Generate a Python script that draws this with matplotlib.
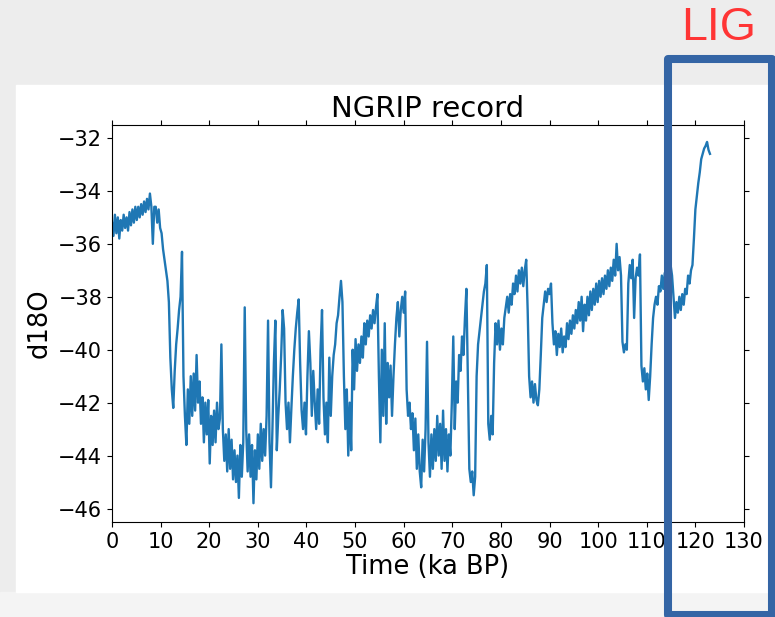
import numpy as np
import matplotlib.pyplot as plt
from matplotlib.patches import Rectangle

# NGRIP d18O, one value every 0.3 ka from 0 ka
STEP_KA = 0.3
d18o_0_30 = [
    -35.2, -35.7, -34.9, -35.6, -35.0, -35.8, -35.1, -35.5, -34.9, -35.4,
    -35.0, -35.5, -34.8, -35.3, -34.7, -35.2, -34.6, -35.1, -34.6, -35.0,
    -34.5, -34.9, -34.4, -34.8, -34.3, -34.7, -34.1, -34.6, -36.0, -34.6,
    -34.6, -35.2, -34.7, -35.4, -35.6, -36.2, -36.6, -37.0, -37.4, -38.2,
    -40.3, -41.5, -42.2, -40.8, -39.8, -39.2, -38.5, -38.0, -36.3, -41.0,
    -42.5, -43.6, -41.5, -42.8, -41.0, -42.5, -40.9, -42.3, -40.2, -42.0,
    -41.2, -42.8, -41.8, -43.5, -42.0, -43.2, -41.9, -44.3, -42.5, -43.6,
    -42.3, -43.5, -42.0, -43.0, -42.6, -39.8, -43.0, -44.2, -43.2, -44.6,
    -43.0, -44.5, -43.4, -44.9, -43.8, -45.0, -44.0, -45.6, -43.6, -44.8,
    -43.5, -38.4, -43.0, -44.6, -43.2, -44.8, -43.6, -45.8, -43.8, -44.9,
]
d18o_30_60 = [
    -43.2, -44.5, -42.8, -44.2, -43.0, -44.0, -42.5, -38.9, -43.5, -45.2,
    -43.0, -40.5, -38.9, -43.8, -42.5, -41.5, -40.2, -38.5, -39.2, -42.0,
    -43.0, -42.0, -43.5, -42.2, -41.0, -40.0, -39.2, -38.6, -38.1, -40.5,
    -42.3, -43.0, -42.0, -43.2, -41.0, -39.3, -40.5, -42.5, -40.8, -42.0,
    -43.0, -41.5, -42.8, -40.0, -38.5, -41.8, -43.2, -42.0, -43.5, -40.3,
    -42.5, -41.0, -40.2, -39.8, -39.0, -38.7, -38.0, -37.4, -38.2, -41.0,
    -43.0, -41.5, -44.0, -42.0, -43.8, -40.0, -41.5, -39.6, -40.8, -39.8,
    -40.5, -39.5, -40.3, -39.0, -39.8, -38.9, -39.5, -38.7, -39.2, -38.5,
    -39.0, -38.4, -37.9, -41.0, -43.5, -40.0, -42.5, -39.0, -42.8, -40.5,
    -41.8, -40.6, -42.5, -41.0, -39.8, -38.8, -38.2, -39.5, -38.5, -38.0,
]
d18o_60_90 = [
    -38.6, -37.8, -41.5, -42.5, -42.0, -43.0, -42.4, -43.8, -42.6, -44.5,
    -43.2, -44.6, -45.2, -43.4, -44.6, -43.0, -39.7, -43.5, -44.8, -43.2,
    -44.5, -43.0, -44.2, -42.5, -44.0, -42.8, -44.5, -42.3, -44.2, -43.0,
    -44.6, -43.2, -44.0, -42.0, -39.5, -43.0, -41.2, -42.0, -40.2, -40.8,
    -39.5, -40.2, -38.8, -37.7, -41.0, -44.5, -45.0, -44.6, -45.5, -44.8,
    -41.0, -39.8, -39.3, -38.8, -38.3, -37.8, -37.5, -36.8, -42.8, -43.4,
    -42.5, -43.2, -40.5, -39.0, -39.8, -38.9, -40.0, -39.2, -39.8, -38.8,
    -38.4, -38.0, -38.6, -37.9, -38.3, -37.5, -37.9, -37.2, -37.8, -37.0,
    -37.5, -36.9, -37.6, -37.0, -36.6, -38.5, -41.0, -41.8, -41.2, -42.0,
    -41.3, -41.9, -42.1, -41.5, -40.2, -38.8, -38.3, -37.8, -38.2, -37.7,
]
d18o_90_123 = [
    -37.9, -37.5, -39.0, -39.8, -39.3, -40.2, -39.4, -39.9, -39.2, -40.1,
    -39.5, -39.9, -39.0, -39.6, -38.9, -39.4, -38.7, -39.2, -38.5, -39.0,
    -38.2, -38.9, -38.0, -39.3, -38.3, -38.9, -38.0, -38.7, -37.8, -38.5,
    -37.7, -38.3, -37.5, -38.2, -37.4, -38.0, -37.3, -37.9, -37.2, -37.7,
    -37.0, -37.6, -36.9, -37.4, -36.6, -37.2, -36.0, -37.0, -36.5, -37.2,
    -39.7, -40.1, -39.8, -40.0, -37.5, -36.8, -37.3, -36.6, -38.8, -37.3,
    -36.9, -37.2, -36.4, -40.6, -41.2, -40.7, -41.5, -40.9, -41.9, -41.0,
    -39.8, -38.8, -38.3, -38.0, -38.3, -37.6, -37.8, -37.2, -37.7, -37.1,
    -37.6, -37.0, -37.4, -36.8, -37.2, -38.0, -38.8, -38.2, -38.6, -38.0,
    -38.5, -37.9, -38.3, -37.7, -37.9, -37.2, -37.5, -37.0, -36.8, -35.8,
    -34.7, -34.2, -33.7, -33.3, -32.8, -32.6, -32.4, -32.3, -32.15, -32.45,
    -32.6,
]

d18o = np.array(d18o_0_30 + d18o_30_60 + d18o_60_90 + d18o_90_123)
age = np.arange(len(d18o)) * STEP_KA

x_ticks = list(range(0, 131, 10))
y_ticks = list(range(-46, -31, 2))

W, H = 775, 617
fig = plt.figure(figsize=(W / 100, H / 100), dpi=100, facecolor='#ededed')

def px(x0, y0, x1, y1):
    # figure-fraction box from pixel corners (top-left origin)
    return (x0 / W, 1 - y1 / H), (x1 - x0) / W, (y1 - y0) / H

# slide: light grey, white panel behind the plot
xy, w, h = px(0, 592, W, H)
fig.patches.append(Rectangle(xy, w, h, transform=fig.transFigure, color='#f4f4f4', zorder=-10))
xy, w, h = px(16, 85, W, 592)
fig.patches.append(Rectangle(xy, w, h, transform=fig.transFigure, color='white', zorder=-10))

ax = fig.add_axes([112 / W, 1 - 522 / H, (744 - 112) / W, (522 - 125) / H])
ax.set_zorder(1)
ax.plot(age, d18o, color='#1f77b4', lw=1.7)
ax.set_xlim(0, 130)
ax.set_ylim(-46.51, -31.51)
ax.set_xticks(x_ticks)
ax.set_yticks(y_ticks)
ax.tick_params(labelsize=15, top=True, right=True)
ax.set_title('NGRIP record', fontsize=21)
ax.set_xlabel('Time (ka BP)', fontsize=18.5, labelpad=2)
ax.set_ylabel('d18O', fontsize=18.5)

# slide annotations
xy, w, h = px(667.5, 59, 771.5, 614.5)
fig.patches.append(Rectangle(xy, w, h, transform=fig.transFigure, fill=False,
                             edgecolor='#3465a5', lw=5.8, joinstyle='round', zorder=10))
box_ax = fig.add_axes([0, 0, 1, 1], facecolor='none')
box_ax.set_axis_off()
box_ax.set_zorder(5)
fig.text(719 / W, 1 - 28 / H, 'LIG', color='#ff3535', fontsize=33.5,
         family='Liberation Sans', ha='center', va='center')
# caption under the slide, mostly cut off by the picture's bottom edge
fig.text(175 / W, 1 - 617.5 / H, 'Source: Svensson et al., 2008', color='#222222',
         fontsize=22, family='Liberation Sans', ha='left', va='top')

fig.savefig('out.png', dpi=100, facecolor=fig.get_facecolor())
